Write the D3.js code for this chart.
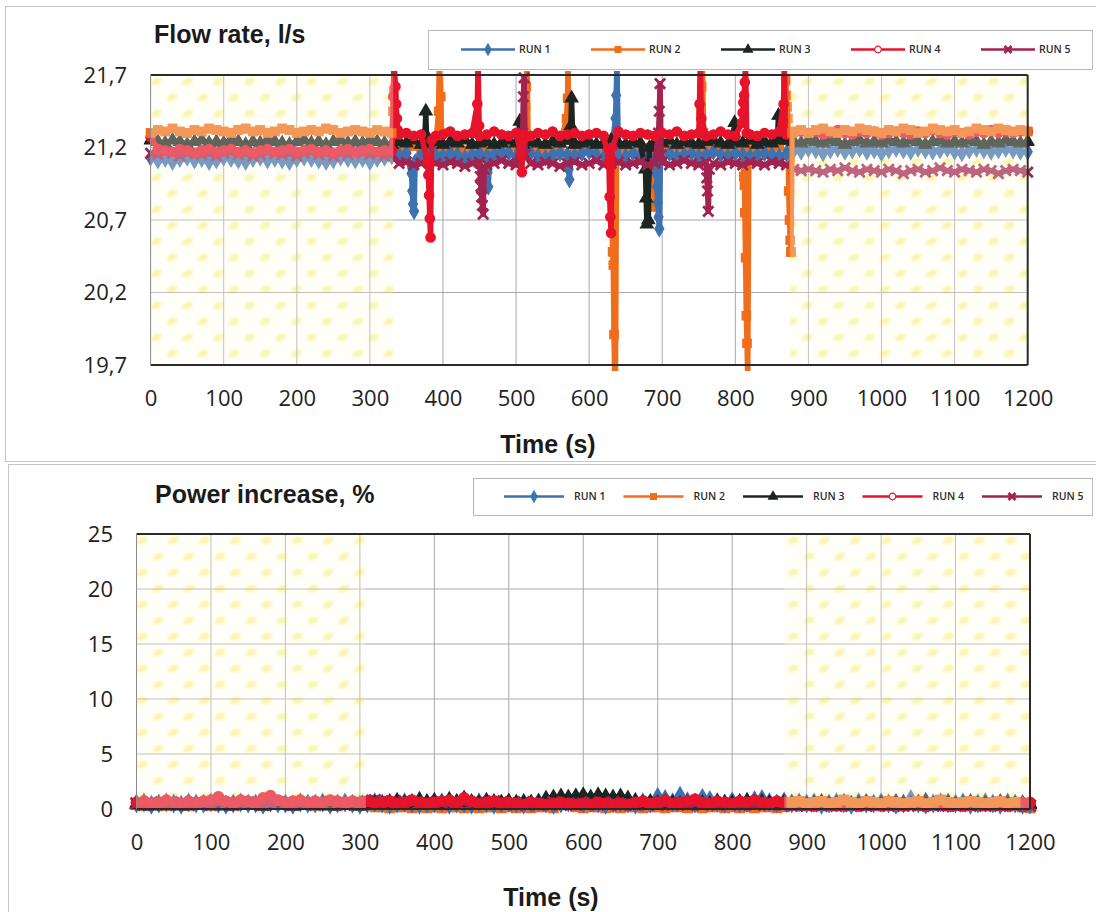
<!DOCTYPE html>
<html>
<head>
<meta charset="utf-8">
<script src="https://cdn.jsdelivr.net/npm/d3@7"></script>
<style>
  body { margin: 0; background: #fff; }
  svg { display: block; }
</style>
</head>
<body>
<svg id="chart" width="1096" height="912"></svg>
<script>
// ---- series meta ----
const runNames  = ["RUN 1", "RUN 2", "RUN 3", "RUN 4", "RUN 5"];
const runColors = ["#3d72b1", "#f06d1c", "#1c2520", "#e6132b", "#a2234f"];

// ---- axis ticks ----
const timeTicks  = [0, 100, 200, 300, 400, 500, 600, 700, 800, 900, 1000, 1100, 1200];
const flowTicks  = [19.7, 20.2, 20.7, 21.2, 21.7];
const powerTicks = [0, 5, 10, 15, 20, 25];

// steady-state intervals (s), hatched
const flowSteady  = [[0, 332], [875, 1200]];
const powerSteady = [[0, 308], [870, 1200]];

// logged samples every 10 s, 0..1200 s (one row = 100 s)
const sampleTimes = d3.range(0, 1201, 10);

// ---- flow rate, l/s ----
const flowRun1 = [
  21.13,21.11,21.12,21.10,21.12,21.13,21.11,21.12,21.10,21.11,
  21.13,21.12,21.11,21.10,21.12,21.13,21.11,21.12,21.11,21.10,
  21.12,21.13,21.12,21.11,21.10,21.11,21.13,21.12,21.11,21.12,
  21.10,21.12,21.13,21.14,21.15,21.16,21.14,21.15,21.17,21.15,
  21.14,21.16,21.15,21.13,21.15,21.16,21.14,21.15,21.17,21.16,
  21.14,21.15,21.16,21.14,21.13,21.15,21.16,21.15,21.14,21.16,
  21.17,21.15,21.14,21.15,21.13,21.14,21.16,21.15,21.14,21.13,
  21.15,21.16,21.14,21.15,21.16,21.14,21.15,21.17,21.15,21.14,
  21.16,21.15,21.14,21.15,21.16,21.15,21.14,21.16,21.18,21.17,
  21.19,21.18,21.16,21.18,21.19,21.17,21.18,21.19,21.17,21.18,
  21.16,21.18,21.19,21.18,21.17,21.19,21.18,21.17,21.18,21.19,
  21.17,21.16,21.18,21.19,21.18,21.17,21.18,21.19,21.18,21.17,
  21.17];
const flowRun2 = [
  21.30,21.32,21.31,21.33,21.31,21.30,21.32,21.31,21.33,21.32,
  21.31,21.30,21.32,21.33,21.31,21.32,21.30,21.31,21.33,21.32,
  21.30,21.31,21.32,21.31,21.33,21.32,21.30,21.31,21.32,21.31,
  21.30,21.32,21.31,21.30,21.20,21.19,21.21,21.19,21.18,21.20,
  21.19,21.21,21.20,21.18,21.19,21.21,21.20,21.19,21.18,21.20,
  21.21,21.19,21.20,21.18,21.19,21.20,21.21,21.19,21.20,21.18,
  21.19,21.20,21.21,21.19,21.18,21.20,21.19,21.21,21.20,21.19,
  21.18,21.20,21.21,21.19,21.20,21.18,21.19,21.21,21.20,21.19,
  21.20,21.21,21.19,21.20,21.18,21.19,21.21,21.20,21.31,21.32,
  21.30,21.32,21.33,21.31,21.30,21.32,21.31,21.33,21.32,21.31,
  21.30,21.32,21.31,21.33,21.32,21.30,21.31,21.33,21.32,21.31,
  21.32,21.30,21.31,21.33,21.32,21.31,21.33,21.32,21.31,21.32,
  21.31];
const flowRun3 = [
  21.25,21.24,21.23,21.25,21.24,21.22,21.24,21.25,21.23,21.24,
  21.23,21.25,21.24,21.22,21.24,21.23,21.25,21.24,21.23,21.22,
  21.24,21.25,21.23,21.24,21.22,21.24,21.25,21.23,21.24,21.23,
  21.25,21.24,21.23,21.22,21.24,21.23,21.25,21.22,21.23,21.24,
  21.22,21.24,21.23,21.25,21.22,21.23,21.24,21.22,21.23,21.25,
  21.23,21.22,21.24,21.23,21.22,21.24,21.23,21.25,21.22,21.23,
  21.24,21.22,21.23,21.25,21.23,21.22,21.24,21.23,21.22,21.24,
  21.23,21.25,21.22,21.24,21.23,21.22,21.24,21.25,21.23,21.22,
  21.24,21.23,21.25,21.22,21.24,21.23,21.24,21.25,21.24,21.23,
  21.25,21.24,21.23,21.25,21.24,21.22,21.24,21.25,21.23,21.24,
  21.23,21.25,21.24,21.23,21.25,21.24,21.22,21.24,21.25,21.23,
  21.24,21.23,21.25,21.24,21.22,21.24,21.23,21.25,21.24,21.23,
  21.24];
const flowRun4 = [
  21.27,21.19,21.18,21.17,21.19,21.18,21.16,21.18,21.19,21.17,
  21.18,21.19,21.17,21.18,21.16,21.18,21.19,21.17,21.18,21.19,
  21.17,21.18,21.19,21.17,21.18,21.16,21.18,21.19,21.17,21.18,
  21.19,21.17,21.18,21.18,21.29,21.30,21.28,21.29,21.30,21.28,
  21.29,21.31,21.28,21.29,21.30,21.28,21.29,21.31,21.29,21.28,
  21.30,21.29,21.28,21.30,21.29,21.31,21.28,21.29,21.30,21.28,
  21.29,21.30,21.28,21.29,21.31,21.29,21.28,21.30,21.29,21.28,
  21.30,21.29,21.31,21.28,21.29,21.30,21.28,21.29,21.31,21.29,
  21.28,21.30,21.29,21.28,21.30,21.29,21.31,21.29,21.30,21.31,
  21.30,21.31,21.29,21.30,21.32,21.30,21.29,21.31,21.30,21.31,
  21.29,21.30,21.31,21.30,21.29,21.31,21.30,21.32,21.30,21.29,
  21.31,21.30,21.29,21.31,21.30,21.32,21.30,21.31,21.30,21.31,
  21.31];
const flowRun5 = [
  21.16,21.15,21.17,21.16,21.14,21.16,21.17,21.15,21.16,21.14,
  21.16,21.17,21.15,21.16,21.14,21.15,21.17,21.16,21.15,21.16,
  21.14,21.16,21.17,21.15,21.16,21.14,21.16,21.15,21.17,21.16,
  21.15,21.16,21.14,21.15,21.09,21.10,21.08,21.09,21.11,21.09,
  21.08,21.10,21.09,21.07,21.09,21.10,21.08,21.09,21.11,21.09,
  21.08,21.10,21.09,21.08,21.10,21.09,21.07,21.09,21.10,21.08,
  21.09,21.11,21.08,21.09,21.10,21.08,21.09,21.10,21.08,21.09,
  21.10,21.08,21.09,21.11,21.09,21.08,21.10,21.09,21.08,21.10,
  21.09,21.08,21.10,21.09,21.08,21.10,21.09,21.08,21.05,21.04,
  21.05,21.04,21.03,21.05,21.04,21.06,21.04,21.03,21.05,21.04,
  21.03,21.05,21.04,21.02,21.04,21.05,21.03,21.04,21.06,21.04,
  21.03,21.05,21.04,21.03,21.05,21.04,21.02,21.04,21.05,21.04,
  21.03];

// short transients logged at 1 s resolution: [time s, flow l/s]
const flowBursts1 = [
  [[357,21.02],[358,20.90],[359,20.81],[360.5,20.76],[362,21.10]],
  [[461,21.03],[462,20.93],[463.5,21.12]],
  [[572,21.05],[573,20.98],[574.5,21.12]],
  [[636,21.40],[637,21.56],[638,21.80],[639.5,21.30]],
  [[692,21.02],[693,20.93],[694,20.82],[695,20.72],[696,20.64],[697.5,21.10]]
];
const flowBursts2 = [
  [[331.5,21.45],[332.5,21.59],[334,21.25]],
  [[394,21.45],[395,21.80],[397,21.55],[398,21.30]],
  [[512,21.40],[513,21.49],[514,21.62],[515,21.80],[516.5,21.25]],
  [[569,21.40],[570.5,21.54],[571,21.80],[572.5,21.25]],
  [[631,21.00],[632,20.48],[633,20.39],[634,19.91],[635,19.60],[636,19.60],[637.5,21.18]],
  [[689,21.00],[690,20.79],[691.5,21.15]],
  [[753,21.45],[754,21.62],[755,21.80],[756.5,21.30]],
  [[811.5,21.00],[812.5,20.94],[813,20.75],[814,20.44],[815,20.04],[816,19.85],[817,19.60],[818.5,21.20]],
  [[868,21.25],[869,21.66],[870,21.56],[871,21.48],[872,21.40],[873,20.90],[874,20.70],[875,20.56],[876,20.48],[877.5,21.30]]
];
const flowBursts3 = [
  [[375.5,21.30],[376.5,21.45],[377.5,21.27]],
  [[504,21.30],[505,21.38],[506,21.25]],
  [[575,21.35],[576,21.54],[577.5,21.25]],
  [[677,21.05],[678,20.85],[679,20.67],[681,20.70],[682.5,21.20]],
  [[798,21.30],[799,21.37],[800.5,21.24]],
  [[858,21.30],[859,21.42],[860.5,21.25]]
];
const flowBursts4 = [
  [[331,21.30],[332,21.55],[333,21.80],[335,21.62],[336,21.50],[337,21.40],[338,21.32]],
  [[379,21.10],[380,21.01],[381,20.87],[382,20.71],[383,20.58],[384.5,21.25]],
  [[447,21.50],[448,21.80],[449.5,21.35]],
  [[507,21.15],[508,21.03],[509.5,21.25]],
  [[627,21.10],[628,20.86],[629,20.72],[630,20.61],[631.5,21.20]],
  [[751,21.50],[752,21.80],[753.5,21.40]],
  [[809,21.37],[810,21.44],[811,21.51],[812,21.56],[813,21.65],[814,21.80],[815.5,21.30]],
  [[866,21.50],[867,21.80],[868.5,21.30]]
];
const flowBursts5 = [
  [[451,21.00],[452,20.93],[453,20.86],[454,20.80],[455,20.74],[456.5,21.05]],
  [[509,21.30],[510,21.55],[511,21.68],[512.5,21.15]],
  [[695,21.30],[696,21.45],[697,21.64],[698.5,21.15]],
  [[761,20.99],[762,20.90],[763,20.76],[764.5,21.05]]
];

// ---- power increase, % ----
const powerRun1 = [
  0.5,0.6,0.4,0.5,0.6,0.5,0.4,0.6,0.5,0.5,
  0.6,0.5,0.4,0.5,0.6,0.5,0.5,0.4,0.6,0.5,
  0.5,0.4,0.6,0.5,0.5,0.6,0.4,0.5,0.6,0.5,
  0.4,0.5,0.6,0.5,0.4,0.5,0.6,0.5,0.4,0.5,
  0.5,0.6,0.4,0.5,0.5,0.4,0.6,0.5,0.4,0.5,
  0.6,0.5,0.4,0.5,0.6,0.5,0.4,0.5,0.6,1.0,
  0.5,0.6,0.5,0.4,0.5,0.6,0.5,0.4,0.6,0.5,
  1.1,0.9,0.6,1.2,0.7,0.5,1.0,0.8,0.6,0.5,
  0.7,0.5,0.6,0.8,0.9,0.6,0.5,0.7,0.5,0.6,
  0.5,0.6,0.4,0.5,0.6,0.5,0.4,0.6,0.5,0.5,
  0.6,0.5,0.4,0.5,0.9,0.5,0.4,0.5,0.6,0.5,
  0.5,0.6,0.4,0.5,0.6,0.5,0.4,0.6,0.5,0.4,
  0.4];
const powerRun2 = [
  0.4,0.3,0.5,0.4,0.3,0.4,0.5,0.3,0.4,0.4,
  0.3,0.5,0.4,0.3,0.4,0.5,0.4,0.3,0.4,0.5,
  0.4,0.3,0.4,0.5,0.3,0.4,0.4,0.3,0.5,0.4,
  0.3,0.4,0.2,0.2,0.1,0.2,0.2,0.1,0.2,0.1,
  0.2,0.1,0.2,0.2,0.1,0.2,0.1,0.2,0.2,0.1,
  0.2,0.1,0.2,0.1,0.2,0.2,0.1,0.6,0.8,0.2,
  0.1,0.2,0.2,0.1,0.2,0.1,0.2,0.2,0.1,0.2,
  0.2,0.1,0.2,0.2,0.1,0.2,0.1,0.2,0.2,0.1,
  0.2,0.1,0.2,0.1,0.2,0.2,0.1,0.2,0.6,0.7,
  0.5,0.6,0.7,0.5,0.6,0.8,0.6,0.5,0.7,0.6,
  0.5,0.7,0.6,0.5,0.6,0.7,0.5,0.6,0.8,0.6,
  0.5,0.6,0.7,0.6,0.5,0.6,0.7,0.5,0.6,0.2,
  0.1];
const powerRun3 = [
  0.4,0.5,0.3,0.4,0.5,0.4,0.3,0.5,0.4,0.4,
  0.5,0.4,0.3,0.4,0.5,0.4,0.4,0.3,0.5,0.4,
  0.4,0.3,0.5,0.4,0.4,0.5,0.3,0.4,0.5,0.4,
  0.3,0.4,0.5,0.4,0.6,0.7,0.5,0.6,0.8,0.6,
  0.7,0.5,0.8,0.6,0.9,0.6,0.5,0.7,0.6,0.5,
  0.6,0.5,0.6,0.5,0.6,0.9,1.0,1.1,1.0,1.1,
  1.2,1.0,1.2,1.1,1.0,1.1,0.9,0.7,0.5,0.6,
  0.5,0.6,0.5,0.4,0.5,0.6,0.5,0.4,0.6,0.5,
  0.5,0.6,0.7,0.5,0.6,0.5,0.4,0.6,0.5,0.5,
  0.4,0.5,0.6,0.4,0.5,0.6,0.4,0.5,0.6,0.4,
  0.5,0.4,0.6,0.5,0.4,0.5,0.7,0.4,0.5,0.6,
  0.4,0.5,0.6,0.4,0.5,0.4,0.6,0.5,0.4,0.5,
  0.4];
const powerRun4 = [
  0.6,0.7,0.5,0.6,0.8,0.6,0.5,0.7,0.6,0.7,
  0.8,1.1,0.7,0.6,0.8,0.7,0.6,1.0,1.2,0.8,
  0.6,0.7,0.8,0.6,0.7,0.6,0.8,0.7,0.6,0.7,
  0.6,0.7,0.5,0.6,0.7,0.5,0.6,0.8,0.6,0.5,
  0.6,0.7,0.8,0.6,1.0,0.7,0.5,0.6,0.7,0.5,
  0.6,0.5,0.4,0.6,0.5,0.4,0.5,0.6,0.5,0.4,
  0.5,0.4,0.6,0.5,0.4,0.5,0.4,0.6,0.7,0.5,
  0.6,0.8,0.5,0.6,0.7,0.9,0.6,0.5,0.7,0.6,
  0.5,0.7,0.6,0.8,0.6,0.5,0.7,0.6,0.4,0.5,
  0.4,0.3,0.5,0.4,0.3,0.4,0.5,0.3,0.4,0.4,
  0.3,0.4,0.5,0.3,0.4,0.4,0.3,0.5,0.4,0.3,
  0.4,0.3,0.4,0.5,0.3,0.4,0.4,0.3,0.4,0.6,
  0.6];
const powerRun5 = [
  0.5,0.4,0.6,0.5,0.4,0.5,0.6,0.4,0.5,0.5,
  0.4,0.6,0.5,0.4,0.5,0.6,0.5,0.4,0.5,0.6,
  0.5,0.4,0.5,0.6,0.4,0.5,0.6,0.5,0.4,0.5,
  0.6,0.7,0.8,0.7,0.6,0.5,0.7,0.6,0.5,0.6,
  0.5,0.6,0.5,0.7,0.6,0.5,0.6,0.5,0.7,0.6,
  0.5,0.4,0.6,0.5,0.4,0.5,0.6,0.4,0.5,0.4,
  0.5,0.6,0.4,0.5,0.6,0.4,0.5,0.4,0.5,0.6,
  0.4,0.5,0.4,0.5,0.4,0.5,0.4,0.5,0.4,0.5,
  0.5,0.4,0.5,0.4,0.5,0.4,0.5,0.4,0.3,0.4,
  0.3,0.4,0.3,0.4,0.3,0.4,0.3,0.4,0.3,0.4,
  0.4,0.3,0.4,0.3,0.4,0.3,0.4,0.3,0.4,0.3,
  0.3,0.4,0.3,0.4,0.3,0.4,0.3,0.4,0.3,0.4,
  0.3];

// ---- helpers ----
// Join the 10 s log with 1 s transient windows (a window replaces the coarse samples it spans)
function joinLog(values, bursts) {
  let pts = sampleTimes.map((t, i) => [t, values[i]]);
  (bursts || []).forEach(w => {
    const lo = w[0][0], hi = w[w.length - 1][0];
    pts = pts.filter(p => p[0] < lo || p[0] > hi).concat(w);
  });
  return pts.sort((a, b) => a[0] - b[0]);
}

const markerTypes = [d3.symbolDiamond, d3.symbolSquare, d3.symbolTriangle, d3.symbolCircle, d3.symbolTimes || d3.symbolCross];

function drawMarker(sel, i, size, fill) {
  const isCross = i === 4;
  sel.attr("d", d3.symbol(markerTypes[i], size)())
     .attr("fill", isCross ? "none" : (fill || runColors[i]))
     .attr("stroke", runColors[i])
     .attr("stroke-width", isCross ? 2.8 : 1.2);
}

const svg = d3.select("#chart");
const defs = svg.append("defs");

defs.append("filter").attr("id", "soft")
  .append("feGaussianBlur").attr("stdDeviation", 0.9);

function fleckPattern(id, ox, oy) {
  const p = defs.append("pattern").attr("id", id)
    .attr("patternUnits", "userSpaceOnUse")
    .attr("x", ox).attr("y", oy).attr("width", 31).attr("height", 32);
  [[3, 3], [18.5, 19]].forEach(([px, py]) => {
    p.append("rect").attr("x", px).attr("y", py).attr("width", 9).attr("height", 7)
      .attr("rx", 2.5).attr("fill", "#f0ec50").attr("opacity", 0.6)
      .attr("transform", `skewX(-25)translate(${py * 0.47},0)`);
  });
}

// outer chart frames
svg.append("rect").attr("x", 5.5).attr("y", 6.5).attr("width", 1110).attr("height", 455)
  .attr("fill", "none").attr("stroke", "#c6c6c6");
svg.append("rect").attr("x", 8.5).attr("y", 464.5).attr("width", 1110).attr("height", 470)
  .attr("fill", "none").attr("stroke", "#c6c6c6");

function drawPanel(o) {
  const g = svg.append("g");
  const x = d3.scaleLinear().domain([0, 1200]).range([o.left, o.right]);
  const y = d3.scaleLinear().domain(o.yDomain).range([o.bottom, o.top]);

  fleckPattern(o.id + "-fleck", o.left, o.top);

  // hatched steady-state intervals
  g.append("g").attr("filter", "url(#soft)").selectAll("rect").data(o.steady).join("rect")
    .attr("x", d => x(d[0])).attr("y", o.top)
    .attr("width", d => x(d[1]) - x(d[0])).attr("height", o.bottom - o.top)
    .attr("fill", `url(#${o.id}-fleck)`);

  // grid
  g.append("g").selectAll("line").data(timeTicks.slice(1, -1)).join("line")
    .attr("x1", d => x(d)).attr("x2", d => x(d))
    .attr("y1", o.top).attr("y2", o.bottom)
    .attr("stroke", "#a8a8a8").attr("stroke-width", 1);
  g.append("g").selectAll("line").data(o.yTicks.slice(1, -1)).join("line")
    .attr("x1", o.left).attr("x2", o.right)
    .attr("y1", d => y(d)).attr("y2", d => y(d))
    .attr("stroke", "#a8a8a8").attr("stroke-width", 1);

  // series
  defs.append("clipPath").attr("id", o.id + "-clip").append("rect")
    .attr("x", o.left - 7).attr("y", o.top - 4)
    .attr("width", o.right - o.left + 14).attr("height", o.bottom - o.top + 10);
  const plot = g.append("g").attr("clip-path", `url(#${o.id}-clip)`);
  const line = d3.line().x(d => x(d[0])).y(d => y(d[1]));
  function drawRun(i, pts) {
    const sg = plot.append("g");
    sg.append("path").attr("d", line(pts)).attr("fill", "none")
      .attr("stroke", runColors[i]).attr("stroke-width", o.lineWidth)
      .attr("stroke-linejoin", "round");
    sg.selectAll("path.m").data(pts).join("path").attr("class", "m")
      .attr("transform", d => `translate(${x(d[0])},${y(d[1])})`)
      .call(drawMarker, i, o.markerSize);
  }
  o.order.forEach(i => drawRun(i, o.series[i]));
  // a run brought to the front over a time window
  (o.front || []).forEach(f => {
    drawRun(f.run, o.series[f.run].filter(p => p[0] >= f.from && p[0] <= f.to));
  });

  // light wash over the hatched intervals
  g.append("g").selectAll("rect").data(o.steady).join("rect")
    .attr("x", d => x(d[0])).attr("y", o.top)
    .attr("width", d => x(d[1]) - x(d[0])).attr("height", o.bottom - o.top)
    .attr("fill", "#fffbe8").attr("opacity", 0.3);

  // plot border
  g.append("line").attr("x1", o.left).attr("x2", o.right).attr("y1", o.top).attr("y2", o.top)
    .attr("stroke", "#2a2a2a").attr("stroke-width", 2);
  g.append("line").attr("x1", o.left).attr("x2", o.right).attr("y1", o.bottom).attr("y2", o.bottom)
    .attr("stroke", "#2a2a2a").attr("stroke-width", 2);
  g.append("line").attr("x1", o.right).attr("x2", o.right).attr("y1", o.top).attr("y2", o.bottom)
    .attr("stroke", "#2a2a2a").attr("stroke-width", 2);
  g.append("line").attr("x1", o.left).attr("x2", o.left).attr("y1", o.top).attr("y2", o.bottom)
    .attr("stroke", "#8a8a8a").attr("stroke-width", 1);

  // axes
  const yAx = g.append("g").attr("transform", `translate(${o.left},0)`)
    .call(d3.axisLeft(y).tickValues(o.yTicks).tickSize(0).tickPadding(o.left - o.yLabelRight).tickFormat(o.yFormat));
  const xAx = g.append("g").attr("transform", `translate(0,${o.bottom})`)
    .call(d3.axisBottom(x).tickValues(timeTicks).tickSize(0).tickPadding(o.xPad).tickFormat(d3.format("d")));
  [yAx, xAx].forEach(a => {
    a.select(".domain").remove();
    a.selectAll("text").attr("font-family", "'Open Sans', sans-serif")
      .attr("font-size", 22).attr("fill", "#222");
  });

  // titles
  g.append("text").attr("x", o.titleX).attr("y", o.titleY)
    .attr("font-family", "'Liberation Sans', Arial, sans-serif").attr("font-weight", "bold")
    .attr("font-size", 25).attr("fill", "#1b1b1b").text(o.title);
  g.append("text").attr("x", o.xTitleX).attr("y", o.xTitleY).attr("text-anchor", "middle")
    .attr("font-family", "'Liberation Sans', Arial, sans-serif").attr("font-weight", "bold")
    .attr("font-size", 25).attr("fill", "#1b1b1b").text("Time (s)");

  // legend
  const L = o.legend;
  g.append("rect").attr("x", L.x + 0.5).attr("y", L.y + 0.5).attr("width", L.w).attr("height", L.h)
    .attr("fill", "#fff").attr("stroke", "#b9b9b9");
  const items = g.append("g").selectAll("g").data(runNames).join("g")
    .attr("transform", (d, i) => `translate(${L.first + i * L.step},${L.y + L.h / 2})`);
  items.append("line").attr("x1", -L.half).attr("x2", L.half)
    .attr("stroke", (d, i) => runColors[i]).attr("stroke-width", 2.6);
  items.append("path").each(function (d, i) {
    d3.select(this).call(drawMarker, i, 34, i === 3 ? "#fff" : null);
  });
  items.append("text").attr("x", L.textDx).attr("dy", "0.35em")
    .attr("font-family", "'Open Sans', sans-serif").attr("font-size", 10.5).attr("font-weight", 600)
    .attr("fill", "#2b2b2b").text(d => d);
}

const commaFmt = d => d.toFixed(1).replace(".", ",");

drawPanel({
  id: "flow",
  left: 150.6, right: 1027.7, top: 75, bottom: 365,
  yDomain: [19.7, 21.7], yTicks: flowTicks, yFormat: commaFmt, yLabelRight: 127,
  xPad: 25,
  steady: flowSteady,
  series: [
    joinLog(flowRun1, flowBursts1), joinLog(flowRun2, flowBursts2), joinLog(flowRun3, flowBursts3),
    joinLog(flowRun4, flowBursts4), joinLog(flowRun5, flowBursts5)
  ],
  order: [1, 0, 2, 4, 3],
  front: [{ run: 1, from: 0, to: 331 }, { run: 1, from: 876, to: 1200 }],
  lineWidth: 5.5, markerSize: 70,
  title: "Flow rate, l/s", titleX: 154, titleY: 43,
  xTitleX: 548, xTitleY: 453,
  legend: { x: 428, y: 30, w: 664, h: 39, first: 488, step: 130, half: 27, textDx: 31 }
});

drawPanel({
  id: "power",
  left: 136.5, right: 1030, top: 534, bottom: 809,
  yDomain: [0, 25], yTicks: powerTicks, yFormat: d3.format("d"), yLabelRight: 113,
  xPad: 25,
  steady: powerSteady,
  series: [
    joinLog(powerRun1), joinLog(powerRun2), joinLog(powerRun3), joinLog(powerRun4), joinLog(powerRun5)
  ],
  order: [1, 0, 2, 4, 3],
  front: [{ run: 1, from: 880, to: 1180 }],
  lineWidth: 7, markerSize: 90,
  title: "Power increase, %", titleX: 155, titleY: 503,
  xTitleX: 551, xTitleY: 906,
  legend: { x: 473, y: 478, w: 619, h: 37, first: 534, step: 119.5, half: 30, textDx: 40 }
});
</script>
</body>
</html>
